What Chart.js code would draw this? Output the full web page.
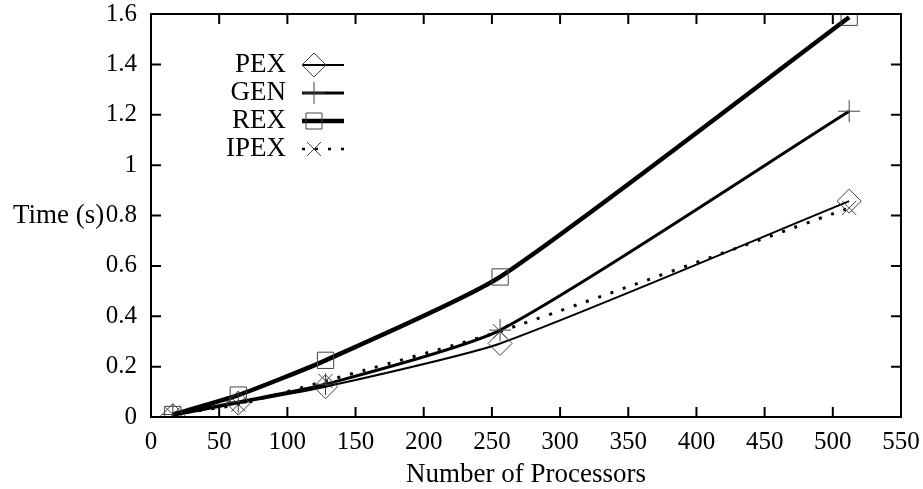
<!DOCTYPE html>
<html>
<head>
<meta charset="utf-8">
<script src="https://cdn.jsdelivr.net/npm/chart.js@4.4.1/dist/chart.umd.min.js"></script>
<style>
  html, body { margin: 0; padding: 0; background: #fff; }
  #wrap { width: 923px; height: 489px; }
</style>
</head>
<body>
<div id="wrap"><canvas id="chart" width="923" height="489"></canvas></div>
<script>
const processors = [16, 64, 128, 256, 512];
const pexTimes = [0.005, 0.055, 0.12, 0.292, 0.857];
const genTimes = [0.01, 0.06, 0.13, 0.345, 1.214];
const rexTimes = [0.01, 0.087, 0.225, 0.556, 1.587];
const ipexTimes = [0.01, 0.05, 0.143, 0.34, 0.83];
const seriesNames = ['PEX', 'GEN', 'REX', 'IPEX'];

const FONT = '"Liberation Serif", "Times New Roman", serif';
const toPoints = (ys) => processors.map((x, i) => ({ x: x, y: ys[i] }));

// marker shapes, same as gnuplot's first point types
function drawMarker(ctx, kind, x, y, r) {
  ctx.beginPath();
  if (kind === 'diamond') {
    ctx.moveTo(x - r, y); ctx.lineTo(x, y - r); ctx.lineTo(x + r, y); ctx.lineTo(x, y + r); ctx.closePath();
  } else if (kind === 'plus') {
    ctx.moveTo(x - r, y); ctx.lineTo(x + r, y); ctx.moveTo(x, y - r); ctx.lineTo(x, y + r);
  } else if (kind === 'square') {
    ctx.rect(x - r, y - r, 2 * r, 2 * r);
  } else if (kind === 'x') {
    ctx.moveTo(x - r, y - r); ctx.lineTo(x + r, y + r); ctx.moveTo(x + r, y - r); ctx.lineTo(x - r, y + r);
  }
  ctx.stroke();
}

const legendStyle = [
  { kind: 'diamond', r: 12, width: 2, dash: [] },
  { kind: 'plus', r: 11, width: 3, dash: [] },
  { kind: 'square', r: 8, width: 4.5, dash: [] },
  { kind: 'x', r: 7, width: 2.5, dash: [3, 10] },
];

const framePlugin = {
  id: 'frame',
  afterDatasetsDraw(chart) {
    const { ctx, chartArea: a, scales } = chart;
    ctx.save();
    ctx.strokeStyle = '#000';
    ctx.lineWidth = 2;
    ctx.strokeRect(a.left, a.top, a.right - a.left, a.bottom - a.top);
    // inward ticks on all four sides
    ctx.lineWidth = 2;
    ctx.beginPath();
    scales.x.ticks.forEach((t) => {
      const px = scales.x.getPixelForValue(t.value);
      ctx.moveTo(px, a.bottom); ctx.lineTo(px, a.bottom - 10);
      ctx.moveTo(px, a.top); ctx.lineTo(px, a.top + 10);
    });
    scales.y.ticks.forEach((t) => {
      const py = scales.y.getPixelForValue(t.value);
      ctx.moveTo(a.left, py); ctx.lineTo(a.left + 10, py);
      ctx.moveTo(a.right, py); ctx.lineTo(a.right - 10, py);
    });
    ctx.stroke();

    // y title, horizontal like gnuplot
    ctx.fillStyle = '#000';
    ctx.font = '27px ' + FONT;
    ctx.textAlign = 'left';
    ctx.textBaseline = 'middle';
    ctx.fillText('Time (s)', 13, 216);

    // legend
    ctx.textAlign = 'right';
    seriesNames.forEach((name, i) => {
      const y = 65 + i * 28;
      const s = legendStyle[i];
      ctx.fillStyle = '#000';
      ctx.fillText(name, 286, y);
      ctx.strokeStyle = '#000';
      ctx.lineWidth = s.width;
      ctx.setLineDash(s.dash);
      ctx.beginPath(); ctx.moveTo(302, y); ctx.lineTo(344, y); ctx.stroke();
      ctx.setLineDash([]);
      ctx.strokeStyle = '#444';
      ctx.lineWidth = 1;
      drawMarker(ctx, s.kind, 314, y, s.r);
    });
    ctx.restore();
  },
};

const common = {
  borderColor: '#000',
  pointBorderColor: '#444',
  pointBackgroundColor: 'rgba(0,0,0,0)',
  pointBorderWidth: 1,
  tension: 0.2,
  fill: false,
};

new Chart(document.getElementById('chart'), {
  type: 'line',
  data: {
    datasets: [
      { ...common, label: 'PEX', data: toPoints(pexTimes), borderWidth: 2, pointStyle: 'rectRot', pointRadius: 12 },
      { ...common, label: 'GEN', data: toPoints(genTimes), borderWidth: 3, pointStyle: 'cross', pointRadius: 11 },
      { ...common, label: 'REX', data: toPoints(rexTimes), borderWidth: 4.5, pointStyle: 'rect', pointRadius: 11.5 },
      { ...common, label: 'IPEX', data: toPoints(ipexTimes), borderWidth: 3, borderDash: [3, 10], pointStyle: 'crossRot', pointRadius: 10 },
    ],
  },
  options: {
    responsive: false,
    animation: false,
    layout: { padding: { top: 0, right: 22, left: 0, bottom: 0 } },
    plugins: { legend: { display: false }, tooltip: { enabled: false } },
    scales: {
      x: {
        type: 'linear',
        min: 0,
        max: 550,
        ticks: { stepSize: 50, color: '#000', font: { family: FONT, size: 25 }, padding: 2, maxRotation: 0 },
        grid: { display: false },
        border: { display: false },
        title: { display: true, text: 'Number of Processors', color: '#000', font: { family: FONT, size: 27 }, padding: { top: 0, bottom: -2 } },
        afterFit: (scale) => { scale.height = 72; },
      },
      y: {
        min: 0,
        max: 1.6,
        ticks: { stepSize: 0.2, color: '#000', font: { family: FONT, size: 25 }, padding: 6,
          callback: (v) => String(Math.round(v * 10) / 10) },
        grid: { display: false },
        border: { display: false },
        afterFit: (scale) => { scale.width = 151; scale.paddingTop = 14; scale.paddingBottom = 0; },
      },
    },
  },
  plugins: [framePlugin],
});
</script>
</body>
</html>
